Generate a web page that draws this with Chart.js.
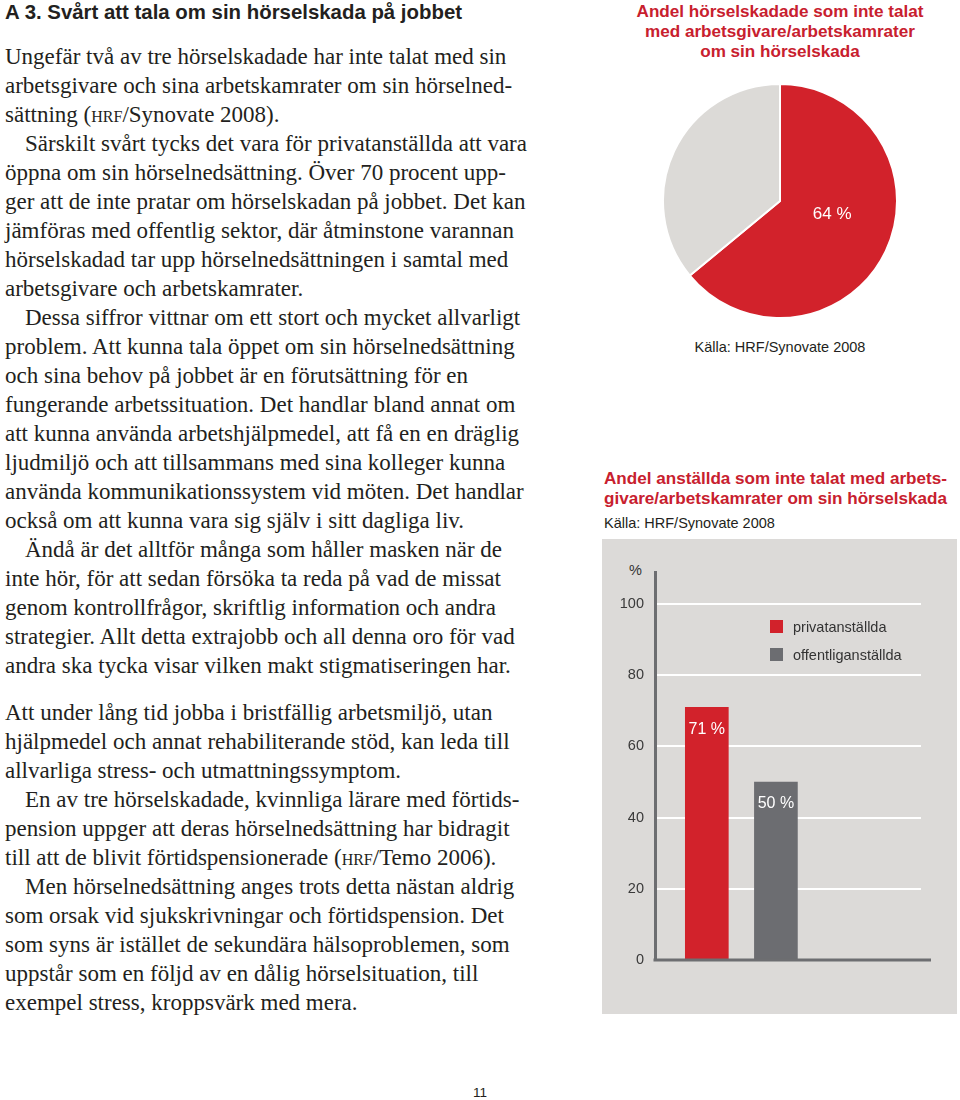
<!DOCTYPE html>
<html>
<head>
<meta charset="utf-8">
<script src="https://cdn.jsdelivr.net/npm/chart.js@4.4.1/dist/chart.umd.min.js"></script>
<style>
  body { margin: 0; width: 960px; height: 1100px; background: #fff; position: relative; overflow: hidden;
         font-family: "Liberation Sans", Arial, sans-serif; color: #231f20; }
  .abs { position: absolute; }
  .h1 { left: 5px; top: 0; font-weight: bold; font-size: 20.4px; line-height: 24px; }
  .txt { left: 5px; width: 580px; font-family: "Liberation Serif", serif; font-size: 23px; line-height: 29px; white-space: nowrap; }
  .txt div { height: 29px; }
  .txt div.ind { padding-left: 20px; }
  .sc { font-variant: small-caps; }
  .red { color: #c8202e; font-weight: bold; font-size: 17.1px; line-height: 20px; white-space: nowrap; }
  .src { font-size: 14.5px; line-height: 18px; color: #231f20; }
  .panel { left: 602px; top: 539px; width: 355px; height: 475px; background: #dcdad8; }
  .leg { font-size: 14.5px; color: #333; line-height: 18px; }
  .leg span.sq { display: inline-block; width: 13px; height: 13px; vertical-align: -1px; margin-right: 10px; }
</style>
</head>
<body>

<div class="abs h1">A 3. Svårt att tala om sin hörselskada på jobbet</div>

<div class="abs txt" style="top:41.5px">
<div>Ungefär två av tre hörselskadade har inte talat med sin</div>
<div>arbetsgivare och sina arbetskamrater om sin hörselned-</div>
<div>sättning (<span class="sc">hrf</span>/Synovate 2008).</div>
<div class="ind">Särskilt svårt tycks det vara för privatanställda att vara</div>
<div>öppna om sin hörselnedsättning. Över 70 procent upp-</div>
<div>ger att de inte pratar om hörselskadan på jobbet. Det kan</div>
<div>jämföras med offentlig sektor, där åtminstone varannan</div>
<div>hörselskadad tar upp hörselnedsättningen i samtal med</div>
<div>arbetsgivare och arbetskamrater.</div>
<div class="ind">Dessa siffror vittnar om ett stort och mycket allvarligt</div>
<div>problem. Att kunna tala öppet om sin hörselnedsättning</div>
<div>och sina behov på jobbet är en förutsättning för en</div>
<div>fungerande arbetssituation. Det handlar bland annat om</div>
<div>att kunna använda arbetshjälpmedel, att få en en dräglig</div>
<div>ljudmiljö och att tillsammans med sina kolleger kunna</div>
<div>använda kommunikationssystem vid möten. Det handlar</div>
<div>också om att kunna vara sig själv i sitt dagliga liv.</div>
<div class="ind">Ändå är det alltför många som håller masken när de</div>
<div>inte hör, för att sedan försöka ta reda på vad de missat</div>
<div>genom kontrollfrågor, skriftlig information och andra</div>
<div>strategier. Allt detta extrajobb och all denna oro för vad</div>
<div>andra ska tycka visar vilken makt stigmatiseringen har.</div>
</div>

<div class="abs txt" style="top:697.5px">
<div>Att under lång tid jobba i bristfällig arbetsmiljö, utan</div>
<div>hjälpmedel och annat rehabiliterande stöd, kan leda till</div>
<div>allvarliga stress- och utmattningssymptom.</div>
<div class="ind">En av tre hörselskadade, kvinnliga lärare med förtids-</div>
<div>pension uppger att deras hörselnedsättning har bidragit</div>
<div>till att de blivit förtidspensionerade (<span class="sc">hrf</span>/Temo 2006).</div>
<div class="ind">Men hörselnedsättning anges trots detta nästan aldrig</div>
<div>som orsak vid sjukskrivningar och förtidspension. Det</div>
<div>som syns är istället de sekundära hälsoproblemen, som</div>
<div>uppstår som en följd av en dålig hörselsituation, till</div>
<div>exempel stress, kroppsvärk med mera.</div>
</div>

<!-- pie -->
<div class="abs red" style="left:600px;width:360px;top:2px;text-align:center">Andel hörselskadade som inte talat<br>med arbetsgivare/arbetskamrater<br>om sin hörselskada</div>
<canvas id="pie" class="abs" width="240" height="240" style="left:660px;top:81px"></canvas>
<div class="abs src" style="left:600px;width:360px;top:338px;text-align:center">Källa: HRF/Synovate 2008</div>

<!-- bar -->
<div class="abs red" style="left:604px;top:469px">Andel anställda som inte talat med arbets-<br>givare/arbetskamrater om sin hörselskada</div>
<div class="abs src" style="left:604px;top:514px">Källa: HRF/Synovate 2008</div>
<div class="abs panel"></div>
<div class="abs leg" style="left:629px;top:561px">%</div>
<canvas id="bar" class="abs" width="355" height="475" style="left:602px;top:539px"></canvas>
<div id="legend" class="abs leg" style="left:770px;top:618px"></div>

<div class="abs src" style="left:0;width:960px;top:1084px;text-align:center;font-size:13.5px">11</div>

<script>
// pie data
const pieLabels = ['inte talat', 'talat'];
const pieValues = [64, 36];
const pieColors = ['#d2222b', '#dcdad7'];

// bar data
const barCats = ['privatanställda', 'offentliganställda'];
const barValues = [71, 50];
const barColors = ['#d2222b', '#6c6d71'];
const yTickValues = [0, 20, 40, 60, 80, 100];

// legend
document.getElementById('legend').innerHTML = barCats.map((c, i) =>
  '<div style="margin-bottom:10px"><span class="sq" style="background:' + barColors[i] + '"></span>' + c + '</div>'
).join('');

const pieLabel = {
  id: 'pieLabel',
  afterDatasetsDraw(chart) {
    const ctx = chart.ctx;
    const arc = chart.getDatasetMeta(0).data[0];
    const mid = (arc.startAngle + arc.endAngle) / 2 - 0.19;
    const r = arc.outerRadius * 0.46;
    ctx.save();
    ctx.fillStyle = '#fff';
    ctx.font = '17px "Liberation Sans", Arial, sans-serif';
    ctx.textAlign = 'center';
    ctx.textBaseline = 'middle';
    ctx.fillText(pieValues[0] + ' %', arc.x + r * Math.cos(mid), arc.y + r * Math.sin(mid));
    ctx.restore();
  }
};

new Chart(document.getElementById('pie'), {
  type: 'pie',
  data: {
    labels: pieLabels,
    datasets: [{ data: pieValues, backgroundColor: pieColors, borderColor: '#fff', borderWidth: 2 }]
  },
  options: {
    responsive: false,
    animation: false,
    events: [],
    layout: { padding: 2 },
    plugins: { legend: { display: false }, tooltip: { enabled: false } }
  },
  plugins: [pieLabel]
});

const barExtras = {
  id: 'barExtras',
  afterDatasetsDraw(chart) {
    const ctx = chart.ctx;
    const a = chart.chartArea;
    ctx.save();
    // x axis line
    ctx.strokeStyle = '#6d6e71';
    ctx.lineWidth = 3;
    ctx.beginPath();
    ctx.moveTo(a.left - 1.5, a.bottom);
    ctx.lineTo(a.right + 10, a.bottom);
    ctx.stroke();
    // value labels
    ctx.fillStyle = '#fff';
    ctx.font = '16px "Liberation Sans", Arial, sans-serif';
    ctx.textAlign = 'center';
    ctx.textBaseline = 'middle';
    chart.getDatasetMeta(0).data.forEach((bar, i) => {
      ctx.fillText(barValues[i] + ' %', bar.x, bar.y + 22);
    });
    ctx.restore();
  }
};

new Chart(document.getElementById('bar'), {
  type: 'bar',
  data: {
    datasets: [{
      data: barValues.map((v, i) => ({ x: i + 1, y: v })),
      backgroundColor: barColors,
      barThickness: 43
    }]
  },
  options: {
    responsive: false,
    animation: false,
    events: [],
    layout: { padding: { top: 33, right: 36, bottom: 54, left: 0 } },
    plugins: { legend: { display: false }, tooltip: { enabled: false } },
    scales: {
      x: { type: 'linear', min: 0.25, max: 4.1, offset: false, display: false },
      y: {
        min: 0, max: 109,
        afterBuildTicks(s) { s.ticks = yTickValues.map(v => ({ value: v })); },
        afterFit(s) { s.width = 53; },
        ticks: { color: '#3a3a3a', font: { size: 14.5, family: '"Liberation Sans", Arial, sans-serif' }, padding: 11 },
        grid: { color: '#ffffff', lineWidth: 2, drawTicks: false },
        border: { color: '#6d6e71', width: 3 }
      }
    }
  },
  plugins: [barExtras]
});
</script>
</body>
</html>
